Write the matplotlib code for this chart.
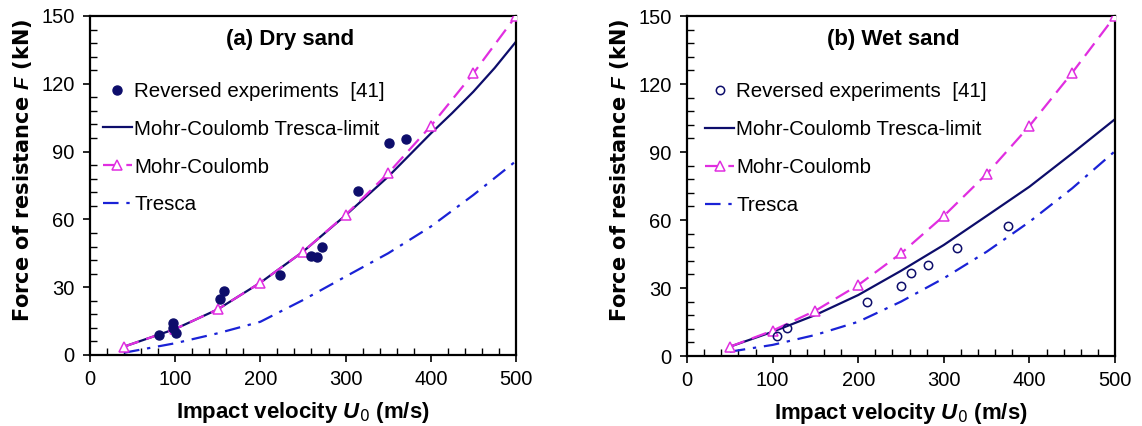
import numpy as np
import matplotlib
matplotlib.use("Agg")
import matplotlib.pyplot as plt
from matplotlib.ticker import MultipleLocator

plt.rcParams['font.family'] = ['Liberation Sans', 'DejaVu Sans']
plt.rcParams['mathtext.fontset'] = 'custom'
plt.rcParams['mathtext.it'] = 'Liberation Sans:italic:bold'
plt.rcParams['mathtext.bf'] = 'Liberation Sans:bold'

# ---- (a) dry sand ----
dry_exp_u = [81, 97, 98, 101, 153, 157, 223, 259, 267, 272, 315, 351, 371]
dry_exp_f = [8.8, 14.3, 11.8, 9.9, 24.6, 28.3, 35.4, 43.8, 43.5, 47.9, 72.7, 93.7, 95.6]

dry_mc_u = [40, 100, 150, 200, 250, 300, 350, 400, 450, 500]
dry_mc_f = [3.7, 11.5, 20.2, 32.0, 45.7, 62.0, 80.4, 101.3, 124.6, 150.0]

dry_mct_u = [40, 100, 150, 200, 250, 300, 350, 400, 425, 450, 475, 500]
dry_mct_f = [3.7, 11.5, 20.2, 32.0, 45.7, 61.8, 78.9, 98.0, 107.0, 116.5, 127.0, 138.6]

dry_tr_u = [40, 100, 150, 200, 250, 300, 350, 400, 450, 500]
dry_tr_f = [1.0, 5.2, 9.6, 14.7, 24.3, 34.7, 45.0, 56.8, 70.8, 85.8]

# ---- (b) wet sand ----
wet_exp_u = [105, 117, 210, 250, 262, 282, 315, 375]
wet_exp_f = [8.8, 12.2, 24.0, 31.0, 36.5, 40.1, 47.6, 57.3]

wet_mc_u = [50, 100, 150, 200, 250, 300, 350, 400, 450, 500]
wet_mc_f = [4.1, 11.2, 20.0, 31.3, 45.3, 61.8, 80.3, 101.5, 125.0, 150.0]

wet_mct_u = [50, 100, 150, 200, 250, 300, 350, 400, 450, 500]
wet_mct_f = [4.1, 10.7, 18.1, 26.9, 37.6, 49.0, 61.8, 74.7, 89.4, 104.5]

wet_tr_u = [50, 100, 150, 200, 250, 300, 350, 400, 450, 500]
wet_tr_f = [1.9, 4.9, 9.3, 15.1, 24.0, 34.3, 46.0, 59.2, 74.0, 90.4]

navy = '#0d0d6b'
magenta = '#e02ee0'
blue = '#1a22d6'

fig = plt.figure(figsize=(11.42, 4.26), dpi=100)
ax1 = fig.add_axes([0.0788, 0.1667, 0.373, 0.7958])
ax2 = fig.add_axes([0.6016, 0.1643, 0.3748, 0.7981])


def draw(ax, eu, ef, filled, mcu, mcf, mctu, mctf, tru, trf, title, tx, lx):
    ax.plot(mcu, mcf, color=magenta, lw=1.6, ls=(0, (7, 3.5)), marker='^',
            ms=7, mfc='white', mec=magenta, mew=1.1, label='Mohr-Coulomb', zorder=3)
    ax.plot(mctu, mctf, color=navy, lw=1.6, label='Mohr-Coulomb Tresca-limit', zorder=2)
    ax.plot(tru, trf, color=blue, lw=1.6, ls=(0, (7, 3.5, 1.5, 3.5)), label='Tresca', zorder=2)
    if filled:
        ax.plot(eu, ef, 'o', color=navy, ms=6.5, ls='none',
                label='Reversed experiments  [41]', zorder=4)
    else:
        ax.plot(eu, ef, 'o', mfc='none', mec=navy, mew=1.1, ms=6, ls='none',
                label='Reversed experiments  [41]', zorder=4)

    ax.set_xlim(0, 500)
    ax.set_ylim(0, 150)
    ax.xaxis.set_major_locator(MultipleLocator(100))
    ax.xaxis.set_minor_locator(MultipleLocator(20))
    ax.yaxis.set_major_locator(MultipleLocator(30))
    ax.yaxis.set_minor_locator(MultipleLocator(6))
    ax.tick_params(which='major', direction='out', length=5, width=1.2,
                   labelsize=14.5, pad=6)
    ax.tick_params(which='minor', direction='in', length=5, width=1.0)
    for s in ax.spines.values():
        s.set_linewidth(1.6)

    ax.set_xlabel(r'Impact velocity $\mathit{U_0}$ (m/s)', fontsize=16,
                  fontweight='bold', family=['Liberation Sans Narrow', 'Liberation Sans'],
                  labelpad=8)
    ax.set_ylabel(r'Force of resistance $\mathit{F}$ (kN)', fontsize=15,
                  fontweight='bold', family=['DejaVu Sans'])
    ax.yaxis.set_label_coords(-0.132, 0.546)
    ax.text(tx, 0.932, title, transform=ax.transAxes, ha='center', va='center',
            fontsize=16, fontweight='bold')

    h, l = ax.get_legend_handles_labels()
    order = [3, 1, 0, 2]
    ax.legend([h[i] for i in order], [l[i] for i in order], loc='upper left',
              bbox_to_anchor=(lx, 0.806), frameon=False, fontsize=14.8,
              handlelength=1.42, handletextpad=0.1, labelspacing=0.92,
              numpoints=1, borderaxespad=0, borderpad=0)


draw(ax1, dry_exp_u, dry_exp_f, True, dry_mc_u, dry_mc_f, dry_mct_u, dry_mct_f,
     dry_tr_u, dry_tr_f, '(a) Dry sand', 0.47, 0.03)
draw(ax2, wet_exp_u, wet_exp_f, False, wet_mc_u, wet_mc_f, wet_mct_u, wet_mct_f,
     wet_tr_u, wet_tr_f, '(b) Wet sand', 0.483, 0.042)

fig.savefig('out.png', dpi=100)
